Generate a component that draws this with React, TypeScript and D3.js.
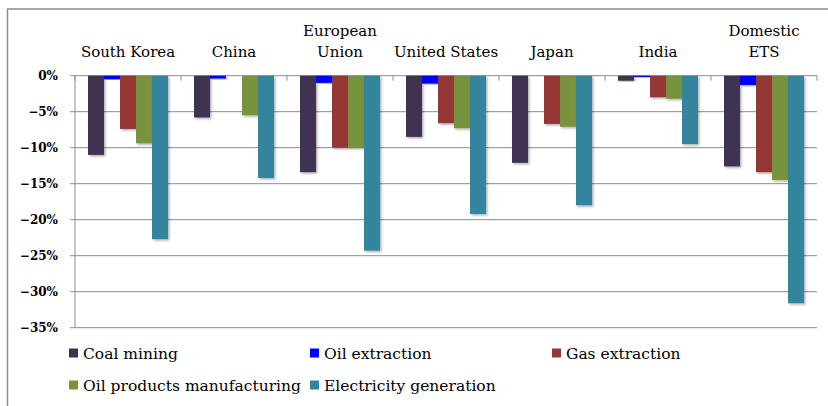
import React from "react";
import * as d3 from "d3";

const categories: string[][] = [
  ["South Korea"],
  ["China"],
  ["European", "Union"],
  ["United States"],
  ["Japan"],
  ["India"],
  ["Domestic", "ETS"],
];
const seriesNames = [
  "Coal mining",
  "Oil extraction",
  "Gas extraction",
  "Oil products manufacturing",
  "Electricity generation",
];
const colors = ["#3F3151", "#0000FF", "#953735", "#77933C", "#31859C"];
const coalMining = [-11.0, -5.8, -13.4, -8.5, -12.1, -0.7, -12.6];
const oilExtraction = [-0.5, -0.4, -1.0, -1.1, 0, -0.2, -1.3];
const gasExtraction = [-7.4, 0, -10.0, -6.6, -6.7, -3.0, -13.4];
const oilProducts = [-9.4, -5.5, -10.0, -7.3, -7.1, -3.2, -14.5];
const electricity = [-22.7, -14.2, -24.3, -19.2, -18.0, -9.5, -31.6];
const seriesValues = [coalMining, oilExtraction, gasExtraction, oilProducts, electricity];
const yTicks = [0, -5, -10, -15, -20, -25, -30, -35];

const W = 828;
const H = 406;
const plot = { left: 75, right: 817, top: 75.7, bottom: 327.7 };

export default function App() {
  const x0 = d3
    .scaleBand<number>()
    .domain(d3.range(categories.length))
    .range([plot.left, plot.right])
    .paddingInner(0)
    .paddingOuter(0);
  const inner = 80 / 106;
  const x1 = d3
    .scaleBand<number>()
    .domain(d3.range(seriesNames.length))
    .range([0, x0.bandwidth() * inner]);
  const offset = (x0.bandwidth() * (1 - inner)) / 2;
  const y = d3.scaleLinear().domain([0, -35]).range([plot.top, plot.bottom]);
  const serif = "'DejaVu Serif', serif";
  const boundaries = d3.range(categories.length + 1).map((i) =>
    i < categories.length ? x0(i)! : plot.right
  );

  const legendCols = [69, 310, 552];
  const legendRows = [353, 385];

  return (
    <svg
      width={W}
      height={H}
      style={{ position: "absolute", left: 0, top: 0, background: "#fff" }}
    >
      <defs>
        <filter id="sh" x="-20%" y="-5%" width="150%" height="120%">
          <feDropShadow dx="1.5" dy="1.5" stdDeviation="1" floodColor="#000" floodOpacity="0.3" />
        </filter>
      </defs>
      <rect x={7.5} y={9} width={W + 10} height={H + 10} fill="#fff" stroke="#8c8c8c" strokeWidth={1.5} />
      {/* gridlines */}
      {yTicks.map((t) => (
        <g key={t}>
          <line x1={plot.left - 5} x2={plot.right} y1={y(t)} y2={y(t)} stroke="#8c8c8c" strokeWidth={1} />
          <text
            x={58}
            y={y(t) + 4.5}
            textAnchor="end"
            fontFamily={serif}
            fontWeight="bold"
            fontSize={12}
            fill="#000"
          >
            {d3.format("d")(t) + "%"}
          </text>
        </g>
      ))}
      <line x1={plot.left} x2={plot.left} y1={plot.top} y2={plot.bottom} stroke="#8c8c8c" />
      {/* bars */}
      {seriesValues.map((vals, s) =>
        vals.map((v, i) =>
          v === 0 ? null : (
            <rect
              key={`${s}-${i}`}
              x={x0(i)! + offset + x1(s)!}
              y={y(0)}
              width={x1.bandwidth()}
              height={y(v) - y(0)}
              fill={colors[s]}
              filter="url(#sh)"
            />
          )
        )
      )}
      {/* zero axis ticks */}
      {boundaries.map((bx, i) => (
        <line key={i} x1={bx} x2={bx} y1={plot.top} y2={plot.top + 5} stroke="#8c8c8c" />
      ))}
      {/* category labels */}
      {categories.map((lines, i) => {
        const cx = x0(i)! + x0.bandwidth() / 2;
        return (
          <text key={i} textAnchor="middle" fontFamily={serif} fontSize={15} fill="#000">
            {lines.map((l, j) => (
              <tspan key={j} x={cx} y={57 - (lines.length - 1 - j) * 21}>
                {l}
              </tspan>
            ))}
          </text>
        );
      })}
      {/* legend */}
      {seriesNames.map((n, s) => {
        const col = s % 3;
        const row = Math.floor(s / 3);
        const lx = legendCols[col];
        const ly = legendRows[row];
        return (
          <g key={n}>
            <rect x={lx} y={ly - 4.5} width={9} height={9} fill={colors[s]} />
            <text x={lx + 14} y={ly + 5.5} fontFamily={serif} fontSize={15.5} fill="#000">
              {n}
            </text>
          </g>
        );
      })}
    </svg>
  );
}
